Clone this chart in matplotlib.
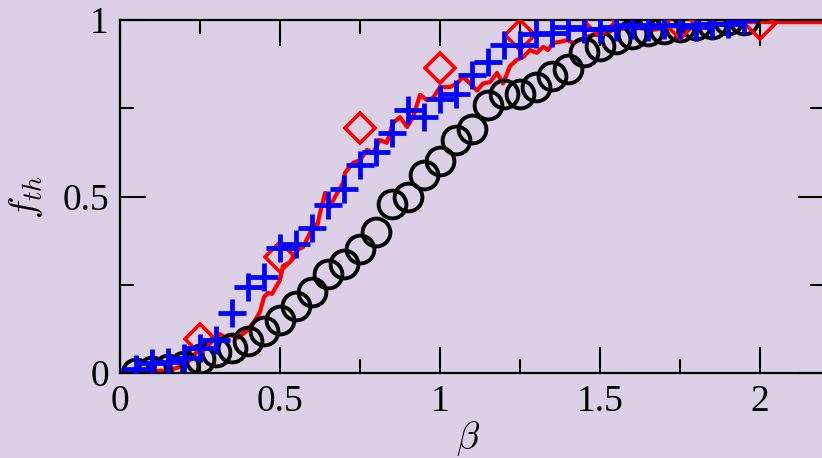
import numpy as np
import matplotlib
matplotlib.use("Agg")
import matplotlib.pyplot as plt
from matplotlib.ticker import MultipleLocator

# black circles
beta_circ = [0.05, 0.10, 0.15, 0.20, 0.25, 0.30, 0.35, 0.40, 0.45, 0.50,
             0.55, 0.60, 0.65, 0.70, 0.75, 0.80, 0.85, 0.90, 0.95, 1.00,
             1.05, 1.10, 1.15, 1.20, 1.25, 1.30, 1.35, 1.40, 1.45, 1.50,
             1.55, 1.60, 1.65, 1.70, 1.75, 1.80, 1.85, 1.90, 1.95]
f_circ = [0.0, 0.005, 0.01, 0.02, 0.04, 0.06, 0.07, 0.09, 0.12, 0.15,
          0.19, 0.23, 0.28, 0.31, 0.35, 0.40, 0.48, 0.50, 0.56, 0.60,
          0.66, 0.69, 0.76, 0.79, 0.79, 0.81, 0.84, 0.86, 0.91, 0.925,
          0.945, 0.96, 0.97, 0.975, 0.98, 0.985, 0.99, 1.0, 1.0]

# blue pluses
beta_plus = beta_circ
f_plus = [0.01, 0.028, 0.03, 0.042, 0.07, 0.093, 0.17, 0.245, 0.272, 0.355,
          0.365, 0.41, 0.475, 0.52, 0.59, 0.626, 0.68, 0.745, 0.725, 0.775,
          0.79, 0.845, 0.88, 0.93, 0.93, 0.96, 0.963, 0.98, 0.975, 0.975,
          0.98, 0.985, 0.98, 0.985, 0.985, 0.98, 0.99, 0.99, 1.0]

# red diamonds
beta_diam = [0.25, 0.5, 0.75, 1.0, 1.25, 1.5, 1.75, 2.0]
f_diam = [0.095, 0.33, 0.694, 0.864, 0.957, 0.994, 0.988, 0.99]

# red line
beta_line = [0.0, 0.0625, 0.125, 0.156, 0.194, 0.219, 0.25, 0.272, 0.29, 0.3125,
             0.328, 0.344, 0.369, 0.397, 0.419, 0.4375, 0.45, 0.4625, 0.475, 0.4875,
             0.5, 0.509, 0.531, 0.553, 0.572, 0.594, 0.603, 0.616, 0.625, 0.641,
             0.656, 0.672, 0.697, 0.703, 0.728, 0.75, 0.772, 0.79, 0.8125, 0.834,
             0.853, 0.875, 0.897, 0.916, 0.9375, 0.959, 0.978, 1.0, 1.031, 1.053,
             1.072, 1.094, 1.116, 1.134, 1.156, 1.178, 1.197, 1.219, 1.24, 1.26,
             1.281, 1.303, 1.322, 1.3375, 1.353, 1.375, 1.397, 1.416, 1.4375, 1.459,
             1.478, 1.5, 1.522, 1.54, 1.584, 1.625, 1.666, 1.709, 1.78, 1.875,
             1.97, 2.2]
f_line = [0.003, 0.003, 0.006, 0.008, 0.02, 0.037, 0.071, 0.085, 0.10, 0.11,
          0.10, 0.108, 0.10, 0.12, 0.145, 0.173, 0.215, 0.227, 0.224, 0.244,
          0.263, 0.303, 0.314, 0.348, 0.357, 0.397, 0.425, 0.414, 0.453, 0.51,
          0.47, 0.499, 0.538, 0.567, 0.595, 0.603, 0.632, 0.623, 0.66, 0.652,
          0.708, 0.725, 0.697, 0.725, 0.788, 0.773, 0.779, 0.81, 0.81, 0.82,
          0.839, 0.82, 0.80, 0.82, 0.824, 0.85, 0.82, 0.87, 0.887, 0.895,
          0.915, 0.907, 0.924, 0.915, 0.935, 0.938, 0.943, 0.935, 0.943, 0.952,
          0.958, 0.958, 0.963, 0.972, 0.977, 0.977, 0.972, 0.98, 0.986, 0.99,
          0.994, 0.994]

bg = "#dcd0e6"
plt.rcParams["font.family"] = ["Liberation Serif", "DejaVu Serif"]
plt.rcParams["mathtext.fontset"] = "cm"

fig = plt.figure(figsize=(8.22, 4.58), dpi=100, facecolor=bg)
ax = fig.add_axes([120 / 822, 85 / 458, 704 / 822, 353 / 458])
ax.set_facecolor(bg)

ax.plot(beta_line, f_line, color="red", lw=3, zorder=2)
ax.plot(beta_circ, f_circ, "o", ms=20, mfc="none", mec="black", mew=2.8, zorder=3)
ax.plot(beta_diam, f_diam, "D", ms=15, mfc="none", mec="red", mew=2.6, zorder=4)
ax.plot(beta_plus, f_plus, "+", ms=20, mec="blue", mew=3.4, zorder=5)

ax.set_xlim(0, 2.2)
ax.set_ylim(0, 1)
ax.xaxis.set_major_locator(MultipleLocator(0.5))
ax.xaxis.set_minor_locator(MultipleLocator(0.25))
ax.yaxis.set_major_locator(MultipleLocator(0.5))
ax.yaxis.set_minor_locator(MultipleLocator(0.25))
ax.set_xticks([0, 0.5, 1, 1.5, 2])
ax.set_xticklabels(["0", "0.5", "1", "1.5", "2"])
ax.set_yticks([0, 0.5, 1])
ax.set_yticklabels(["0", "0.5", "1"])
ax.tick_params(which="both", direction="in", top=True, right=True, width=1.5,
               labelsize=27, pad=8)
ax.tick_params(which="major", length=19)
ax.tick_params(which="minor", length=10)
for s in ax.spines.values():
    s.set_linewidth(1.6)

ax.set_xlabel(r"$\beta$", fontsize=27)
ax.xaxis.set_label_coords(0.494, -0.13)
ax.set_ylabel(r"$f_{th}$", fontsize=27)
ax.yaxis.set_label_coords(-0.107, 0.5)

fig.savefig("out.png", dpi=100, facecolor=bg)
